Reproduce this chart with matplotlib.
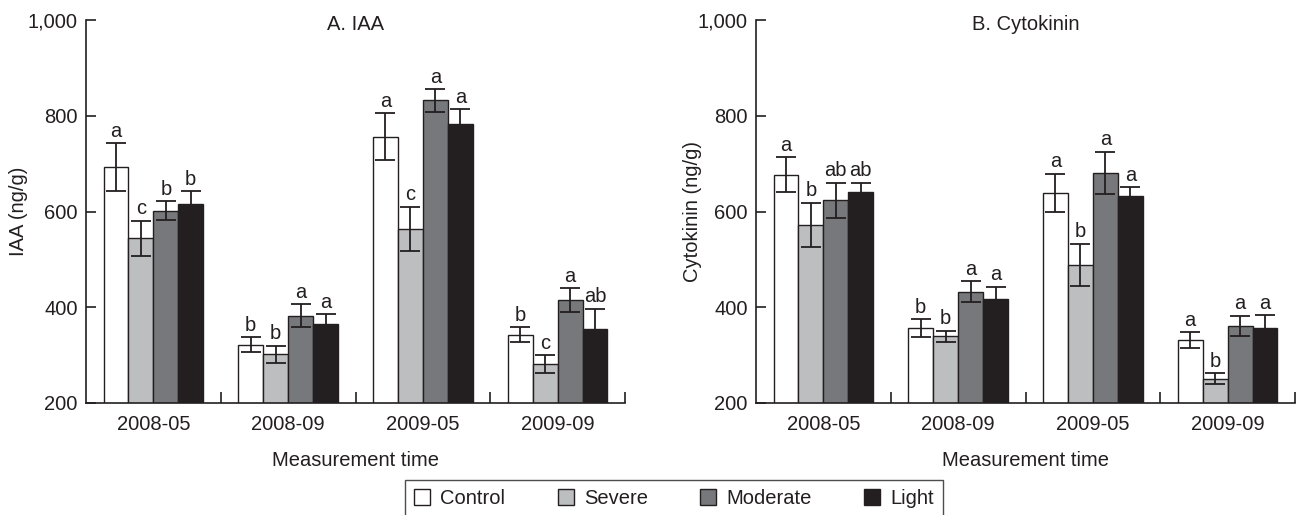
import numpy as np
import matplotlib
matplotlib.use("Agg")
import matplotlib.pyplot as plt
from matplotlib.ticker import FuncFormatter, FixedLocator

plt.rcParams["font.family"] = ["Liberation Sans", "DejaVu Sans"]

times = ["2008-05", "2008-09", "2009-05", "2009-09"]
treatments = ["Control", "Severe", "Moderate", "Light"]
colors = ["#ffffff", "#bcbec0", "#77787b", "#231f20"]

# IAA (ng/g), rows = treatment, columns = measurement time
iaa_mean = [
    [693, 322, 756, 343],
    [544, 302, 564, 281],
    [602, 382, 832, 415],
    [616, 366, 783, 354],
]
iaa_err = [
    [50, 16, 49, 15],
    [37, 18, 46, 19],
    [20, 24, 24, 25],
    [26, 19, 31, 43],
]
iaa_letters = [
    ["a", "b", "a", "b"],
    ["c", "b", "c", "c"],
    ["b", "a", "a", "a"],
    ["b", "a", "a", "ab"],
]

# Cytokinin (ng/g)
cyt_mean = [
    [677, 356, 639, 331],
    [572, 339, 489, 251],
    [623, 432, 681, 361],
    [641, 417, 633, 357],
]
cyt_err = [
    [37, 19, 40, 17],
    [46, 12, 44, 11],
    [37, 22, 44, 21],
    [19, 26, 18, 27],
]
cyt_letters = [
    ["a", "b", "a", "a"],
    ["b", "b", "b", "b"],
    ["ab", "a", "a", "a"],
    ["ab", "a", "a", "a"],
]

ink = "#231f20"
fs = 14.5
W, H = 1299, 515
fig = plt.figure(figsize=(W / 100, H / 100), dpi=100)

ax1 = fig.add_axes([86 / W, 112 / H, 539 / W, 383 / H])
ax2 = fig.add_axes([756 / W, 112 / H, 539 / W, 383 / H])


def draw_panel(ax, means, errs, letters, title, ylabel, ylabel_x):
    x = np.arange(len(times)) + 0.5
    w = 0.185
    for i, name in enumerate(treatments):
        xs = x + (i - 1.5) * w
        ax.bar(xs, means[i], w, bottom=0, color=colors[i], edgecolor=ink,
               linewidth=1.0, label=name, zorder=2)
        ax.errorbar(xs, means[i], yerr=errs[i], fmt="none", ecolor=ink,
                    elinewidth=1.3, capsize=7, capthick=1.3, zorder=3)
        for xx, m, e, t in zip(xs, means[i], errs[i], letters[i]):
            ax.text(xx, m + e + 5, t, ha="center", va="bottom",
                    fontsize=fs, color=ink, zorder=4)
    ax.set_xlim(0, 4)
    ax.set_ylim(200, 1000)
    ax.xaxis.set_major_locator(FixedLocator([1, 2, 3, 4]))
    ax.xaxis.set_minor_locator(FixedLocator(x))
    ax.set_xticklabels([], minor=False)
    ax.set_xticklabels(times, minor=True)
    ax.tick_params(axis="x", which="major", direction="in", length=8,
                   width=1.2, color=ink)
    ax.tick_params(axis="x", which="minor", length=0, pad=9,
                   labelsize=fs, labelcolor=ink)
    ax.set_yticks([200, 400, 600, 800, 1000])
    ax.yaxis.set_major_formatter(FuncFormatter(lambda v, p: f"{int(v):,}"))
    ax.tick_params(axis="y", direction="in", length=7, width=1.2, color=ink,
                   pad=6, labelsize=fs, labelcolor=ink)
    for s in ["top", "right"]:
        ax.spines[s].set_visible(False)
    for s in ["left", "bottom"]:
        ax.spines[s].set_color(ink)
        ax.spines[s].set_linewidth(1.2)
    ax.set_xlabel("Measurement time", fontsize=fs, color=ink, labelpad=12)
    ax.set_ylabel(ylabel, fontsize=fs, color=ink)
    ax.yaxis.label.set_verticalalignment("center")
    ax.yaxis.set_label_coords(ylabel_x, 0.5)
    ax.text(0.5, 0.987, title, transform=ax.transAxes, ha="center",
            va="center", fontsize=fs, color=ink)


draw_panel(ax1, iaa_mean, iaa_err, iaa_letters, "A. IAA", "IAA (ng/g)",
           -0.126)
draw_panel(ax2, cyt_mean, cyt_err, cyt_letters, "B. Cytokinin",
           "Cytokinin (ng/g)", -0.117)

handles, labels = ax1.get_legend_handles_labels()
leg = fig.legend(handles, labels, loc="upper center", ncol=4,
                 bbox_to_anchor=(674 / W, 1 - 480 / H), frameon=True,
                 fancybox=False, fontsize=fs, handlelength=0.8,
                 handleheight=0.8, handletextpad=0.5, columnspacing=2.6,
                 borderpad=0.45, borderaxespad=0, labelcolor=ink)
leg.get_frame().set_edgecolor(ink)
leg.get_frame().set_linewidth(1.0)

fig.savefig("out.png", dpi=100)
